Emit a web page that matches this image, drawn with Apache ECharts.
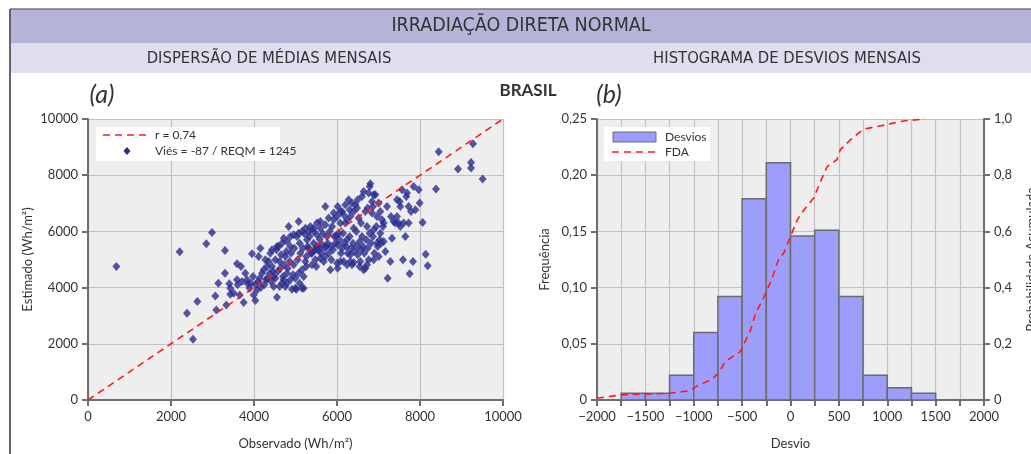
<!DOCTYPE html>
<html>
<head>
<meta charset="utf-8">
<script src="https://cdn.jsdelivr.net/npm/echarts@6/dist/echarts.min.js"></script>
<style>
  html, body { margin: 0; padding: 0; background: #ffffff; }
  #chart { width: 1031px; height: 454px; }
</style>
</head>
<body>
<div id="chart"></div>
<script>
// Monthly mean direct normal irradiation: observed vs. estimated (Wh/m²)
const observed = [
  683, 2209, 2385, 2530, 2635, 2851, 2988, 3068, 3092, 3141, 3301, 3301, 3333, 3406, 3430, 3430,
  3590, 3590, 3655, 3687, 3751, 3791, 3847, 3952, 3992, 4032, 4072, 4096, 4112, 4153, 4169, 4233,
  4297, 4353, 4378, 4434, 4474, 4514, 4554, 4594, 4635, 4675, 4715, 4755, 4795, 4835, 4876, 4916,
  4956, 4996, 5020, 5036, 5076, 5116, 5157, 5197, 5237, 5277, 5317, 5357, 5398, 5438, 5478, 5518,
  5558, 5598, 5639, 5679, 5719, 5759, 5799, 5839, 5880, 5920, 5960, 6000, 6040, 6080, 6120, 6161,
  6201, 6241, 6281, 6321, 6361, 6402, 6442, 6482, 6522, 6562, 6602, 6642, 6683, 6723, 6763, 6803,
  6843, 6884, 6924, 6964, 7004, 7044, 7084, 7124, 7165, 7205, 7221, 7285, 7325, 7365, 7446, 7486,
  7526, 7566, 7590, 7647, 7687, 7727, 7751, 7783, 7831, 7847, 7888, 7968, 7992, 8064, 8137, 8185,
  8386, 8450, 8916, 9229, 9229, 9277, 9510,
  5213, 5341, 5438, 5502, 5582, 5663, 5743, 5823, 5904, 5984, 6064, 6145, 6225, 6305, 6386, 6466,
  6546, 6627, 6707, 6787, 6867, 6948, 7028, 7108, 6000, 6080, 6161, 6241, 6321, 6402, 6482, 6578,
  6683, 6739, 6843, 6964, 7044, 7124, 7301, 7405, 7526, 7606, 7727, 7510, 7671, 7446,
  4474, 4715, 4795, 4940, 5076, 5157, 5261, 5398, 5502, 5598, 5719, 5863, 6080, 6241, 6402, 6546,
  6723, 6884, 7004, 6016, 6321, 6642,
  4273, 4313, 4394, 4458, 4538, 4618, 4651, 4731, 4779, 4860, 4892, 4972, 5052, 5100, 5181, 5261,
  5293, 5373, 5454, 5534, 5614, 5695, 5775, 5855, 5936, 6016, 6096, 6177, 6257, 6337, 6418, 6498,
  6578, 6659, 6739, 6819, 6900, 6980, 7060,
  3510, 3606, 3711, 3831, 3896, 3928, 3976, 4040, 4137, 4193, 4249, 4313, 4410, 4514, 4570, 4618,
  4699, 4755, 4811, 4876, 4996, 5100, 5197,
  5920, 6016, 6120, 6201, 6305, 6361, 6498, 6602, 6763, 6787, 6867, 6884, 5598, 5719, 5799, 5518,
  5438, 5317, 5237, 5157, 5076, 4956, 4876, 4795, 4675, 4554, 4434
];
const estimated = [
  4751, 5273, 3088, 2162, 3504, 5558, 5962, 3705, 3207, 4157, 5321, 4513, 3385, 4133, 3765, 3979,
  4846, 4276, 3741, 4751, 3468, 4513, 4133, 5202, 3741, 3539, 3919, 4216, 5107, 5404, 4014, 4632,
  4276, 4929, 4513, 4751, 4038, 4988, 3658, 5463, 4691, 4157, 5760, 5107, 4513, 6176, 5463, 3943,
  4810, 4335, 3943, 5820, 6354, 5226, 3979, 4394, 4929, 5701, 5404, 6176, 5226, 5582, 4988, 5879,
  5344, 6354, 5523, 4929, 6888, 5820, 5226, 4632, 6176, 6651, 5582, 4869, 5938, 6710, 5404, 4929,
  6295, 5701, 7126, 5166, 4810, 6116, 6948, 5463, 6473, 4929, 5820, 7423, 4691, 6176, 4988, 7696,
  6651, 6057, 7304, 5582, 7007, 5938, 6413, 5641, 5285, 6888, 4335, 4929, 5760, 6354, 7126, 6295,
  6888, 7482, 4988, 5820, 7363, 6295, 4489, 6710, 4929, 7601, 6770, 7482, 7007, 6318, 5190, 4774,
  7506, 8836, 8219, 8456, 8254, 9121, 7862,
  5914, 5820, 5998, 5368, 5725, 5914, 5463, 5998, 5344, 5843, 5701, 5938, 5463, 5820, 5582, 5998,
  5641, 5463, 5701, 5938, 5820, 6176, 5701, 6176, 6532, 6295, 6591, 6413, 6532, 6710, 6829, 6295,
  6710, 6829, 7067, 6532, 6710, 6295, 6532, 6295, 6176, 6295, 6888, 7067, 7245, 6532,
  4394, 4276, 4157, 4454, 4513, 4632, 4751, 4810, 4751, 5048, 5107, 4988, 4929, 4810, 4893, 4751,
  4810, 4988, 5107, 4691, 4929, 4632,
  4988, 4751, 5226, 4573, 5344, 4929, 5166, 4810, 5285, 4929, 5226, 5404, 4988, 5582, 5404, 5107,
  5463, 5226, 5344, 5463, 5226, 5404, 5582, 5463, 5820, 5523, 5226, 5582, 5226, 5404, 5285, 5166,
  5344, 5226, 5404, 5582, 5226, 5463, 5582,
  3800, 4097, 4216, 4276, 3979, 4157, 4394, 4097, 4335, 4513, 4097, 4335, 4216, 4335, 4573, 4038,
  4394, 4038, 4691, 4276, 3979, 4157, 3979,
  6413, 6888, 6710, 6948, 6770, 7007, 7126, 7245, 7363, 7601, 6888, 7304, 6116, 6235, 6473, 6295,
  6116, 5998, 6116, 5998, 5938, 5879, 5820, 5641, 5582, 5463, 5344
];
const refLine = [[0, 0], [10000, 10000]];

// Histogram of monthly deviations (bin start, bin width, relative frequency)
const binStart = [-1750, -1500, -1250, -1000, -750, -500, -250, 0, 250, 500, 750, 1000, 1250];
const binWidth = 250;
const frequency = [0.006, 0.006, 0.022, 0.060, 0.092, 0.179, 0.211, 0.146, 0.151, 0.092, 0.022, 0.011, 0.006];

// Empirical cumulative distribution (FDA)
const fdaX = [-2000, -1760, -1250, -1035, -965, -810, -735, -675, -520, -415, -360, -280, -195,
  -125, -70, 0, 70, 140, 240, 325, 380, 480, 515, 620, 755, 995, 1165, 1390];
const fdaY = [0.006, 0.018, 0.024, 0.033, 0.050, 0.074, 0.100, 0.137, 0.172, 0.247, 0.309, 0.362, 0.428,
  0.499, 0.523, 0.582, 0.641, 0.677, 0.719, 0.789, 0.831, 0.855, 0.891, 0.926, 0.964, 0.980, 0.993, 1.0];

const scatterName = 'Viés = -87 / REQM = 1245';
const lineName = 'r = 0,74';
const txt = '#333333';
const axisColor = '#6e6e6e';
const gridColor = '#c2c2c2';
const red = '#ff1a1a';
const navy = '#2b2d8e';
const barFill = '#9d9dfb';
const dash = [7, 5];
const baseFont = 'Lato, "Open Sans", sans-serif';
const headFont = '"Liberation Sans Narrow", "DejaVu Sans Condensed", "Open Sans", sans-serif';

function comma(v, d) { return v === 0 ? '0' : v.toFixed(d).replace('.', ','); }

const chart = echarts.init(document.getElementById('chart'), null, { renderer: 'canvas' });

function valueAxis(extra) {
  return Object.assign({
    type: 'value',
    axisLine: { show: true, onZero: false, lineStyle: { color: axisColor, width: 2 } },
    axisTick: { show: true, length: 6, lineStyle: { color: axisColor, width: 2 } },
    axisLabel: { color: txt, fontSize: 13, fontFamily: baseFont, margin: 10, formatter: v => String(v) },
    splitLine: { show: true, lineStyle: { color: gridColor, width: 1.2 } },
    nameLocation: 'middle',
    nameTextStyle: { color: txt, fontSize: 13, fontFamily: baseFont }
  }, extra);
}

// legend boxes drawn as graphics: keys for the dashed line, diamond and bar
function legendText(x, y, s) {
  return { type: 'text', x: x, y: y, z: 20, style: { text: s, fill: txt, font: '12px ' + baseFont, textVerticalAlign: 'middle' } };
}
const legendA = [
  { type: 'rect', z: 19, shape: { x: 96, y: 127, width: 184, height: 34 }, style: { fill: '#ffffff' } },
  { type: 'line', z: 20, shape: { x1: 103, y1: 135, x2: 150, y2: 135 }, style: { stroke: red, lineWidth: 1.6, lineDash: dash } },
  { type: 'polygon', z: 20, shape: { points: [[127, 147], [130.5, 151], [127, 155], [123.5, 151]] }, style: { fill: navy } },
  legendText(155, 135, lineName),
  legendText(155, 151, scatterName)
];
const legendB = [
  { type: 'rect', z: 19, shape: { x: 604, y: 127, width: 106, height: 34 }, style: { fill: '#ffffff' } },
  { type: 'rect', z: 20, shape: { x: 613, y: 132, width: 43, height: 10 }, style: { fill: barFill, stroke: '#6b6b6b', lineWidth: 1 } },
  { type: 'line', z: 20, shape: { x1: 612, y1: 152, x2: 657, y2: 152 }, style: { stroke: red, lineWidth: 1.6, lineDash: dash } },
  legendText(665, 137, 'Desvios'),
  legendText(665, 152, 'FDA')
];

chart.setOption({
  animation: false,
  textStyle: { fontFamily: baseFont },
  graphic: [
    { type: 'rect', shape: { x: 10, y: 9, width: 1021, height: 34 }, style: { fill: '#b4b4d8' }, silent: true },
    { type: 'rect', shape: { x: 10, y: 43, width: 1021, height: 30 }, style: { fill: '#dedeef' }, silent: true },
    { type: 'line', shape: { x1: 10, y1: 9, x2: 1031, y2: 9 }, style: { stroke: '#777777', lineWidth: 1.5 }, silent: true },
    { type: 'line', shape: { x1: 10, y1: 9, x2: 10, y2: 454 }, style: { stroke: '#666666', lineWidth: 2 }, silent: true },
    { type: 'text', x: 521, y: 26, style: { text: 'IRRADIAÇÃO DIRETA NORMAL', fill: '#333', font: '19.5px ' + headFont, textAlign: 'center', textVerticalAlign: 'middle' } },
    { type: 'text', x: 269, y: 59, style: { text: 'DISPERSÃO DE MÉDIAS MENSAIS', fill: '#333', font: '16.5px ' + headFont, textAlign: 'center', textVerticalAlign: 'middle' } },
    { type: 'text', x: 787, y: 59, style: { text: 'HISTOGRAMA DE DESVIOS MENSAIS', fill: '#333', font: '16.5px ' + headFont, textAlign: 'center', textVerticalAlign: 'middle' } },
    { type: 'text', x: 102, y: 95, style: { text: '(a)', fill: '#333', font: 'italic 25px ' + baseFont, textAlign: 'center', textVerticalAlign: 'middle' } },
    { type: 'text', x: 609, y: 95, style: { text: '(b)', fill: '#333', font: 'italic 25px ' + baseFont, textAlign: 'center', textVerticalAlign: 'middle' } },
    { type: 'text', x: 528, y: 91, style: { text: 'BRASIL', fill: '#333', font: 'bold 17px ' + baseFont, textAlign: 'center', textVerticalAlign: 'middle' } }
  ].concat(legendA, legendB),
  grid: [
    { left: 88, top: 119, width: 415, height: 281, show: true, backgroundColor: '#eeeeee', borderWidth: 0, outerBoundsMode: 'none', containLabel: false },
    { left: 597, top: 119, width: 387, height: 281, show: true, backgroundColor: '#eeeeee', borderWidth: 0, outerBoundsMode: 'none', containLabel: false }
  ],
  xAxis: [
    valueAxis({
      gridIndex: 0, min: 0, max: 10000, interval: 2000,
      name: 'Observado (Wh/m²)', nameGap: 37
    }),
    valueAxis({
      gridIndex: 1, min: -2000, max: 2000, interval: 500,
      name: 'Desvio', nameGap: 37,
      minorTick: { show: true, splitNumber: 2, length: 6, lineStyle: { color: axisColor, width: 2 } },
      minorSplitLine: { show: true, lineStyle: { color: gridColor, width: 1.2 } },
      axisLabel: { color: txt, fontSize: 13, fontFamily: baseFont, margin: 10,
        formatter: v => String(v).replace('-', '−') }
    })
  ],
  yAxis: [
    valueAxis({
      gridIndex: 0, min: 0, max: 10000, interval: 2000,
      name: 'Estimado (Wh/m²)', nameGap: 54
    }),
    valueAxis({
      gridIndex: 1, min: 0, max: 0.25, interval: 0.05, position: 'left',
      name: 'Frequência', nameGap: 46,
      axisLabel: { color: txt, fontSize: 13, fontFamily: baseFont, margin: 10, formatter: v => comma(v, 2) }
    }),
    valueAxis({
      gridIndex: 1, min: 0, max: 1, interval: 0.2, position: 'right',
      name: 'Probabilidade Acumulada', nameGap: 41, nameRotate: 90,
      splitLine: { show: false },
      axisLabel: { color: txt, fontSize: 13, fontFamily: baseFont, margin: 10, formatter: v => comma(v, 1) }
    })
  ],
  series: [
    {
      name: scatterName, type: 'scatter', xAxisIndex: 0, yAxisIndex: 0,
      symbol: 'diamond', symbolSize: [8, 9],
      itemStyle: { color: navy },
      data: observed.map((x, i) => [x, estimated[i]]),
      z: 3
    },
    {
      name: lineName, type: 'line', xAxisIndex: 0, yAxisIndex: 0,
      symbol: 'none', showSymbol: false,
      lineStyle: { color: red, width: 1.6, type: dash },
      data: refLine, z: 4
    },
    {
      name: 'Desvios', type: 'custom', xAxisIndex: 1, yAxisIndex: 1,
      encode: { x: 0, y: 1 },
      data: binStart.map((b, i) => [b, frequency[i]]),
      renderItem: function (params, api) {
        const b = api.value(0), f = api.value(1);
        const p0 = api.coord([b, 0]);
        const p1 = api.coord([b + binWidth, f]);
        return {
          type: 'rect',
          shape: { x: p0[0], y: p1[1], width: p1[0] - p0[0], height: p0[1] - p1[1] },
          style: { fill: barFill, stroke: '#6b6b6b', lineWidth: 1.5 }
        };
      },
      z: 3
    },
    {
      name: 'FDA', type: 'line', xAxisIndex: 1, yAxisIndex: 2,
      symbol: 'none', showSymbol: false,
      lineStyle: { color: red, width: 1.6, type: dash },
      data: fdaX.map((x, i) => [x, fdaY[i]]), z: 4
    }
  ]
});
</script>
</body>
</html>
